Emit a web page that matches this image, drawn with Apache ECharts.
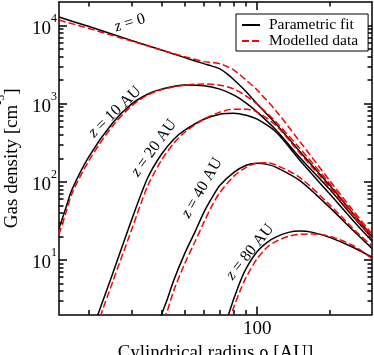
<!DOCTYPE html>
<html>
<head>
<meta charset="utf-8">
<script src="https://cdn.jsdelivr.net/npm/echarts@6/dist/echarts.min.js"></script>
<style>
  html, body { margin: 0; padding: 0; background: #fff; }
  #chart { width: 374px; height: 355px; }
</style>
</head>
<body>
<div id="chart"></div>
<script>
// radius rho [AU] and gas density [cm^-3]
const rhoZ0 = [15, 20, 30, 40, 50, 60, 65, 70, 75, 80, 90, 100, 120, 150, 200, 250, 300]
const fitZ0 = [12850, 9690, 6460, 4850, 3880, 3250, 3020, 2780, 2400, 2020, 1420, 990, 546, 246, 90, 39.4, 20]
const dataZ0 = [11750, 9140, 6320, 4850, 4000, 3450, 3350, 3250, 2980, 2690, 2000, 1490, 800, 330, 104, 43, 21.5]

const rhoZ10 = [15, 16, 17, 20, 25, 30, 35, 40, 50, 60, 70, 80, 90, 100, 120, 150, 200, 250, 300]
const fitZ10 = [25.3, 45.7, 80, 212, 562, 985, 1320, 1535, 1730, 1700, 1535, 1285, 1015, 778, 457, 206, 80, 36, 19]
const dataZ10 = [21.2, 39.4, 71, 188, 514, 929, 1285, 1510, 1725, 1780, 1725, 1535, 1250, 985, 578, 270, 95, 40, 20.5]

const rhoZ20 = [20, 22, 25, 30, 35, 40, 45, 50, 60, 70, 80, 90, 100, 120, 150, 200, 250, 300]
const fitZ20 = [0.9, 2.18, 6.5, 32, 111, 225, 351, 457, 632, 733, 755, 711, 632, 430, 190, 70, 32, 17.5]
const dataZ20 = [0.6, 1.67, 5.1, 23.9, 87.5, 188, 311, 430, 632, 778, 850, 850, 780, 520, 235, 85, 37, 19]

const rhoZ40 = [38, 40, 42, 45, 50, 55, 60, 65, 70, 80, 90, 100, 110, 120, 150, 200, 250, 300]
const fitZ40 = [1.25, 2, 2.95, 5.5, 12.1, 22.5, 40.6, 63, 90, 132, 163, 173, 167, 153, 104, 47, 23.9, 14]
const dataZ40 = [1.0, 1.6, 2.1, 4.06, 9.0, 16.8, 30.2, 49.9, 73, 118, 153, 173, 175, 163, 114, 51, 25.3, 15]

const rhoZ80 = [72, 75, 80, 85, 90, 100, 110, 120, 135, 150, 170, 200, 250, 300]
const fitZ80 = [1.3, 1.78, 3.2, 5.3, 7.8, 12.8, 16.8, 19.7, 22.5, 23.4, 22.5, 19.4, 14.5, 10.8]
const dataZ80 = [0.95, 1.45, 2.5, 4.06, 6.0, 10.4, 14.5, 17.3, 20, 21.2, 21.5, 20, 15.3, 10.4]

const curves = [
  [rhoZ0, fitZ0, dataZ0],
  [rhoZ10, fitZ10, dataZ10],
  [rhoZ20, fitZ20, dataZ20],
  [rhoZ40, fitZ40, dataZ40],
  [rhoZ80, fitZ80, dataZ80]
]
const curveNames = ['z = 0', 'z = 10 AU', 'z = 20 AU', 'z = 40 AU', 'z = 80 AU']

const xRange = [15, 300]
const yRange = [2, 20000]
const xMajor = [100]
const xMinor = [20, 30, 40, 50, 60, 70, 80, 90, 200]
const yMajor = [10, 100, 1000, 10000]
const yMinor = [3, 4, 5, 6, 7, 8, 9, 20, 30, 40, 50, 60, 70, 80, 90,
  200, 300, 400, 500, 600, 700, 800, 900, 2000, 3000, 4000, 5000, 6000, 7000, 8000, 9000]

const lg = v => Math.log10(v)
const FONT = 'Liberation Serif'

function points (rho, n) {
  return rho.map((r, i) => [lg(r), lg(n[i])])
}

// one axis per tick family (major / minor) and side, all sharing the grid
function tickAxis (kind, pos, values, len, line) {
  return {
    type: 'value',
    position: pos,
    min: lg(kind === 'x' ? xRange[0] : yRange[0]),
    max: lg(kind === 'x' ? xRange[1] : yRange[1]),
    splitLine: { show: false },
    axisLine: { show: line, onZero: false, lineStyle: { color: '#000', width: 1.5 } },
    axisTick: { show: true, inside: true, length: len, customValues: values.map(lg), lineStyle: { color: '#000', width: 1.5 } },
    axisLabel: { show: false }
  }
}

const xMain = tickAxis('x', 'bottom', xMajor, 8, true)
xMain.axisLabel = {
  show: true,
  customValues: xMajor.map(lg),
  formatter: v => String(Math.round(Math.pow(10, v))),
  fontFamily: FONT,
  fontSize: 19,
  color: '#000',
  margin: 5
}
xMain.name = 'Cylindrical radius ρ [AU]'
xMain.nameLocation = 'middle'
xMain.nameGap = 12
xMain.nameTextStyle = { fontFamily: FONT, fontSize: 19, color: '#000', verticalAlign: 'top' }

const yMain = tickAxis('y', 'left', yMajor, 8, true)
yMain.axisLabel = {
  show: true,
  customValues: yMajor.map(lg),
  formatter: v => '{b|10}{s|' + Math.round(v) + '}',
  margin: 2,
  rich: {
    b: { fontFamily: FONT, fontSize: 19, color: '#000', padding: [7, 0, 0, 0] },
    s: { fontFamily: FONT, fontSize: 12, color: '#000', verticalAlign: 'top' }
  }
}
yMain.name = '{a|Gas density [cm}{s|-3}{a|]}'
yMain.nameLocation = 'middle'
yMain.nameGap = 26
yMain.nameTextStyle = {
  rich: {
    a: { fontFamily: FONT, fontSize: 19, color: '#000', padding: [7, 0, 0, 0] },
    s: { fontFamily: FONT, fontSize: 12, color: '#000', verticalAlign: 'top' }
  }
}

const series = []
curves.forEach(c => {
  series.push({
    name: 'Parametric fit',
    type: 'line',
    data: points(c[0], c[1]),
    symbol: 'none',
    smooth: 0.3,
    itemStyle: { color: '#000' },
    lineStyle: { color: '#000', width: 1.5 },
    z: 3
  })
})
curves.forEach(c => {
  series.push({
    name: 'Modelled data',
    type: 'line',
    data: points(c[0], c[2]),
    symbol: 'none',
    smooth: 0.3,
    itemStyle: { color: '#ff0000' },
    lineStyle: { color: '#ff0000', width: 1.5, type: [7, 3] },
    z: 4
  })
})

// where the z labels sit along the curves
const labelPos = [[130, 23, 17], [115, 112, 44], [154, 148, 54], [202, 188, 60], [250, 252, 51]]

const option = {
  animation: false,
  backgroundColor: '#fff',
  grid: { left: 59, top: 2, width: 313, height: 312.5, containLabel: false, outerBoundsMode: 'none' },
  legend: {
    data: ['Parametric fit', 'Modelled data'],
    orient: 'vertical',
    left: 236,
    top: 14,
    padding: [3, 10, 2, 5],
    itemGap: 0,
    itemWidth: 18,
    itemHeight: 15,
    backgroundColor: '#fff',
    borderColor: '#000',
    borderWidth: 1,
    borderRadius: 0,
    itemStyle: { opacity: 0 },
    textStyle: { fontFamily: FONT, fontSize: 15.5, color: '#000', padding: [0, 0, 0, 4], lineHeight: 15 }
  },
  xAxis: [
    xMain,
    tickAxis('x', 'bottom', xMinor, 4.5, false),
    tickAxis('x', 'top', xMajor, 8, true),
    tickAxis('x', 'top', xMinor, 4.5, false)
  ],
  yAxis: [
    yMain,
    tickAxis('y', 'left', yMinor, 4.5, false),
    tickAxis('y', 'right', yMajor, 8, true),
    tickAxis('y', 'right', yMinor, 4.5, false)
  ],
  series: series,
  graphic: curveNames.map((t, i) => ({
    type: 'text',
    x: labelPos[i][0],
    y: labelPos[i][1],
    rotation: labelPos[i][2] * Math.PI / 180,
    z: 10,
    style: {
      text: '{i|z}' + t.slice(1),
      fontFamily: FONT,
      fontSize: 16,
      fill: '#000',
      align: 'center',
      verticalAlign: 'middle',
      rich: { i: { fontFamily: FONT, fontSize: 16, fontStyle: 'italic', fill: '#000' } }
    }
  }))
}

const chart = echarts.init(document.getElementById('chart'))
chart.setOption(option)
</script>
</body>
</html>
